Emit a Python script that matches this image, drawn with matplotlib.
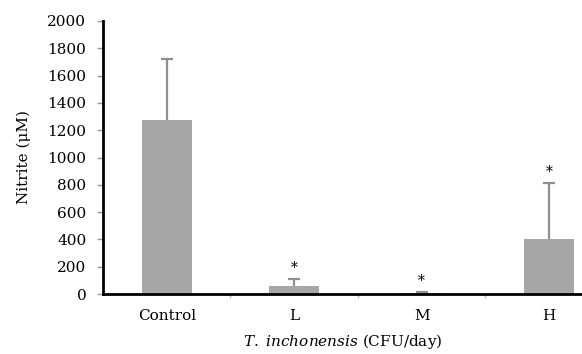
import matplotlib.pyplot as plt
import numpy as np

groups = ['Control', 'L', 'M', 'H']
nitrite = [1275, 61, 5, 402]
err_up = [447, 49, 12, 412]
signif = ['', '*', '*', '*']

plt.rcParams['font.family'] = ['DejaVu Serif']
plt.rcParams['mathtext.fontset'] = 'custom'
plt.rcParams['mathtext.it'] = 'DejaVu Serif:italic'
plt.rcParams['mathtext.rm'] = 'DejaVu Serif'

fig = plt.figure(figsize=(5.82, 3.54), dpi=100)
ax = fig.add_axes([103 / 582, 60 / 354, 1 - 103 / 582, 273 / 354])

x = np.arange(len(groups))
ax.bar(x, nitrite, width=0.39, color='#a6a6a6', zorder=2)
_, caps, _ = ax.errorbar(x, nitrite, yerr=[np.zeros(len(x)), err_up], fmt='none',
                         ecolor='#8f8f8f', elinewidth=1.6, capsize=4, capthick=1.6,
                         zorder=1)
caps[0].set_visible(False)

for xi, v, e, s in zip(x, nitrite, err_up, signif):
    if s:
        ax.annotate(s, (xi, v + e), xytext=(0, 3), textcoords='offset points',
                    ha='center', va='bottom', fontsize=10)

ax.set_xlim(-0.5, 3.257)
ax.set_ylim(0, 2000)
ax.set_yticks(np.arange(0, 2001, 200))
ax.set_xticks(x, labels=groups)
ax.set_xticks(np.arange(0.5, 3, 1), minor=True)
ax.tick_params(axis='x', which='major', length=0, labelsize=11, pad=11)
ax.tick_params(axis='x', which='minor', length=3, color='#bbbbbb', width=1)
ax.tick_params(axis='y', length=4, color='#999999', width=1, labelsize=11, pad=8)

for side in ['top', 'right']:
    ax.spines[side].set_visible(False)
ax.spines['left'].set_linewidth(2)
ax.spines['bottom'].set_linewidth(2)

ax.set_ylabel('Nitrite (μM)', fontsize=11, labelpad=12)
ax.set_xlabel(r'$\it{T.}$ $\it{inchonensis}$ (CFU/day)', fontsize=11, labelpad=6)

plt.savefig('out.png', dpi=100)
plt.close(fig)
